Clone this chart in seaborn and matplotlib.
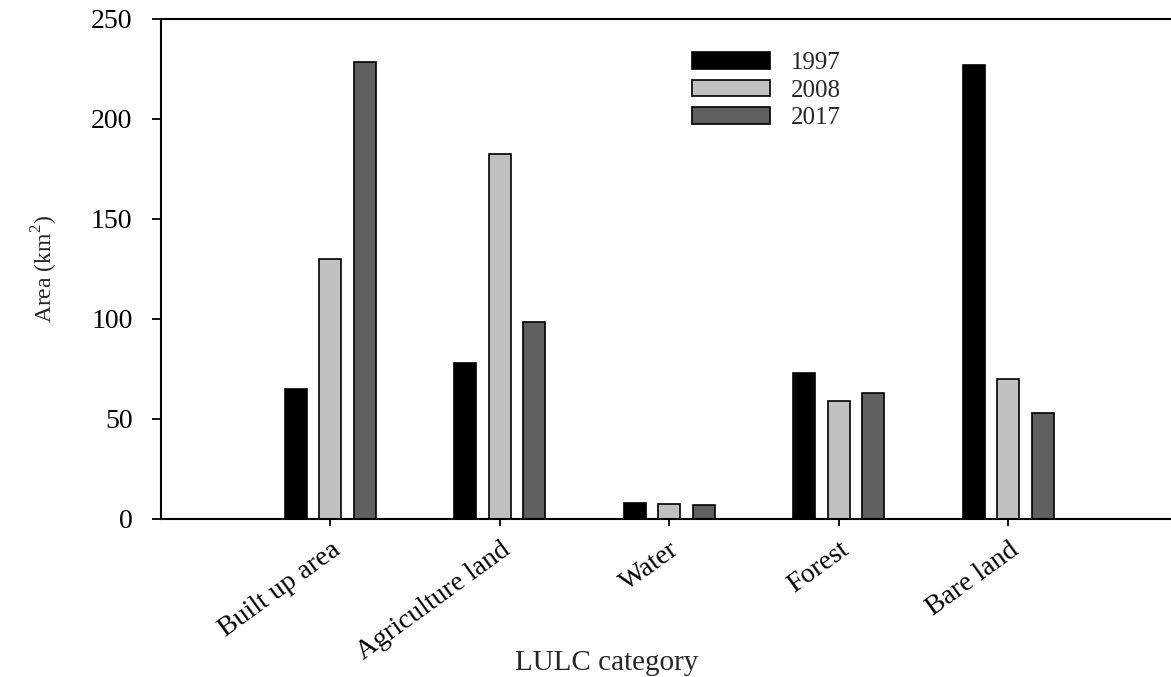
import pandas as pd
import matplotlib
matplotlib.use('Agg')
import matplotlib.pyplot as plt
import seaborn as sns

# данные
categories = ['Built up area', 'Agriculture land', 'Water', 'Forest', 'Bare land']
years = ['1997', '2008', '2017']
area_1997 = [65, 78, 8, 73, 227]
area_2008 = [130, 182.5, 7.5, 59, 70]
area_2017 = [228.5, 98.5, 7, 63, 53]
y_ticks = [0, 50, 100, 150, 200, 250]

palette = {'1997': '#000000', '2008': '#c0c0c0', '2017': '#606060'}

df = pd.DataFrame({
    'category': categories * 3,
    'year': [y for y in years for _ in categories],
    'area': area_1997 + area_2008 + area_2017,
})

sns.set_style('white')
plt.rcParams['font.family'] = ['Liberation Serif', 'DejaVu Serif']
plt.rcParams['mathtext.fontset'] = 'custom'
plt.rcParams['mathtext.rm'] = 'Liberation Serif'

fig = plt.figure(figsize=(11.71, 6.77), dpi=100)
ax = fig.add_axes([161 / 1171, 158 / 677, 1010 / 1171, 500 / 677])

sns.barplot(
    data=df, x='category', y='area', hue='year', order=categories,
    hue_order=years, palette=palette, width=0.61, gap=0.36,
    edgecolor='black', linewidth=1.2, ax=ax
)

ax.set_xlim(-1.0, 4.96)
ax.set_ylim(0, 250)
ax.set_yticks(y_ticks)
ax.set_yticklabels([str(t) for t in y_ticks], fontsize=20)
ax.set_xticks(range(len(categories)))
ax.set_xticklabels(categories, fontsize=20, rotation=36,
                   ha='right', va='top', rotation_mode='anchor')

ax.tick_params(axis='y', direction='out', length=6.5, width=1.3, pad=14,
               left=True, colors='black')
ax.tick_params(axis='x', direction='out', length=5, width=1.3, pad=8,
               bottom=True, colors='black')

# Оси
for spine in ['left', 'bottom', 'top']:
    ax.spines[spine].set_linewidth(1.5)
    ax.spines[spine].set_color('black')
ax.spines['right'].set_visible(False)

ax.set_xlabel('LULC category', fontsize=21)
ax.set_ylabel('Area (km$^\\mathregular{2}$)', fontsize=17)
ax.xaxis.set_label_coords(0.441, -0.262)
ax.yaxis.set_label_coords(-0.10, 0.5)

# Легенда
ax.legend(
    loc='upper left', bbox_to_anchor=(692 / 1171, 1 - 52 / 677),
    bbox_transform=fig.transFigure, frameon=False, fontsize=18,
    handlelength=3.1, handleheight=0.64, labelspacing=0.22,
    handletextpad=0.85, borderpad=0, borderaxespad=0, title=None
)

fig.savefig('out.png', dpi=100, facecolor='white')
